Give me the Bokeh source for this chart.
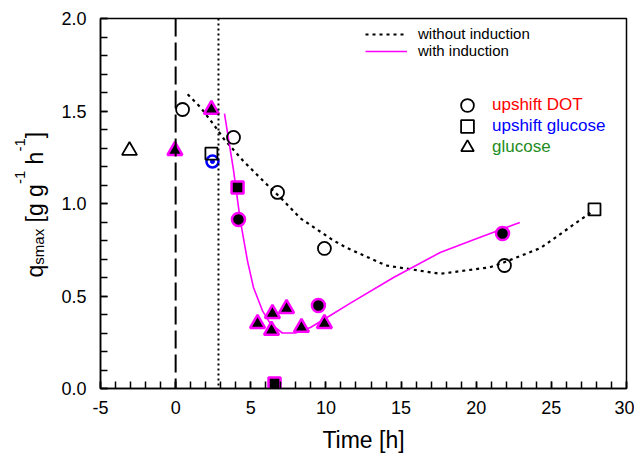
import math
from bokeh.plotting import figure
from bokeh.layouts import row
from bokeh.models import (Legend, LegendItem, Span, FixedTicker,
                          PrintfTickFormatter, Range1d)
from bokeh.core.properties import value
from bokeh.embed import file_html
from bokeh.resources import INLINE

# ---------------- data ----------------
# upshift DOT (circles)
dot_open_t = [0.46, 3.85, 6.78, 9.9, 21.88]
dot_open_q = [1.508, 1.357, 1.06, 0.757, 0.665]
dot_ind_t = [4.18, 9.5, 21.75]
dot_ind_q = [0.914, 0.449, 0.838]
dot_blue_t = [2.45]
dot_blue_q = [1.227]

# upshift glucose (squares)
glc_up_open_t = [2.38, 27.87]
glc_up_open_q = [1.27, 0.968]
glc_up_ind_t = [4.12, 6.58]
glc_up_ind_q = [1.086, 0.027]

# glucose (triangles)
glc_open_t = [-3.07]
glc_open_q = [1.286]
glc_ind_t = [-0.05, 2.38, 5.45, 6.44, 7.38, 6.38, 8.37, 9.9]
glc_ind_q = [1.286, 1.508, 0.351, 0.405, 0.432, 0.314, 0.33, 0.351]

# fitted curves
without_t = [0.8, 1.65, 2.5, 3.2, 4.5, 5.85, 7.0, 8.3, 10.5, 11.4, 14.0,
             17.6, 20.9, 21.8, 24.3, 26.9, 27.8]
without_q = [1.59, 1.52, 1.43, 1.35, 1.23, 1.12, 1.03, 0.92, 0.80, 0.76, 0.665,
             0.62, 0.655, 0.68, 0.76, 0.91, 0.96]
with_t = [3.25, 3.85, 4.0, 4.3, 4.78, 5.18, 5.78, 6.3, 7.1, 7.97, 8.97, 10.1,
          11.6, 14.5, 17.6, 20.0, 22.9]
with_q = [1.486, 1.18, 1.09, 0.91, 0.69, 0.546, 0.42, 0.351, 0.30, 0.30, 0.33,
          0.385, 0.46, 0.60, 0.735, 0.81, 0.897]

# vertical markers (time of events)
event_dashed = 0.0
event_dotted = 2.85

x_major = [-5, 0, 5, 10, 15, 20, 25, 30]
x_minor = list(range(-5, 31))
y_major = [0.0, 0.5, 1.0, 1.5, 2.0]
y_minor = [i / 10 for i in range(21)]

# y-axis label pieces: text, font size, baseline shift (sub/superscript)
NB = "\u00a0"
ylabel_parts = ["q", "smax", NB + "[g" + NB + "g", "-1", NB + "h", "-1", "]"]
ylabel_sizes = [23, 15, 23, 15, 23, 15, 23]
ylabel_shift = [0, 4, 0, -15, 0, -15, 0]
ylabel_adv = [0.556, 2.389, 1.946, 0.889, 0.834, 0.889, 0.278]

FONT = "Liberation Sans"
MAG = "#ff00ff"
LABEL_W = 50
H = 468

p = figure(width=634 - LABEL_W, height=H, x_range=Range1d(-5, 30), y_range=Range1d(0, 2),
           output_backend="svg", toolbar_location=None,
           min_border_left=100 - LABEL_W, min_border_right=8, min_border_top=18,
           min_border_bottom=80)
p.xgrid.visible = False
p.ygrid.visible = False
p.outline_line_color = "black"
p.outline_line_width = 1.5
p.background_fill_color = "white"
p.border_fill_color = "white"

for ax in (p.xaxis[0], p.yaxis[0]):
    ax.axis_line_width = 1.5
    ax.major_tick_in = 7
    ax.major_tick_out = 0
    ax.minor_tick_in = 7
    ax.minor_tick_out = 0
    ax.major_tick_line_width = 1.5
    ax.minor_tick_line_width = 1.5
    ax.major_label_text_font = FONT
    ax.major_label_text_font_size = "18px"
    ax.major_label_text_color = "black"

p.xaxis.ticker = FixedTicker(ticks=x_major, minor_ticks=x_minor)
p.yaxis.ticker = FixedTicker(ticks=y_major, minor_ticks=y_minor)
p.xaxis.formatter = PrintfTickFormatter(format="%d")
p.yaxis.formatter = PrintfTickFormatter(format="%.1f")
p.xaxis.major_label_standoff = 12
p.yaxis.major_label_standoff = 14
p.xaxis.axis_label = "Time [h]"
p.xaxis.axis_label_text_font = FONT
p.xaxis.axis_label_text_font_size = "23px"
p.xaxis.axis_label_text_font_style = "normal"
p.xaxis.axis_label_text_color = "black"
p.xaxis.axis_label_standoff = 10

# event lines
p.add_layout(Span(location=event_dashed, dimension="height", line_color="black",
                  line_width=2, line_dash="18 6"))
p.add_layout(Span(location=event_dotted, dimension="height", line_color="black",
                  line_width=2, line_dash="2 3"))

# curves
r_without = p.line(without_t, without_q, line_color="black", line_width=2.2,
                   line_dash="3 4")
r_with = p.line(with_t, with_q, line_color=MAG, line_width=1.6)

# markers
r_circ = p.scatter(dot_open_t, dot_open_q, marker="circle", size=13,
                   fill_color=None, line_color="black", line_width=1.8)
p.scatter(dot_blue_t, dot_blue_q, marker="circle", size=12,
          fill_color=None, line_color="blue", line_width=2.5)
p.scatter(dot_blue_t, dot_blue_q, marker="circle", size=4,
          fill_color="blue", line_color="blue")
r_sq = p.scatter(glc_up_open_t, glc_up_open_q, marker="square", size=12,
                 fill_color=None, line_color="black", line_width=1.8)
r_tri = p.scatter(glc_open_t, glc_open_q, marker="triangle", size=15,
                  fill_color=None, line_color="black", line_width=1.8)

p.scatter(dot_ind_t, dot_ind_q, marker="circle", size=13,
          fill_color="black", line_color=MAG, line_width=2.5)
p.scatter(glc_up_ind_t, glc_up_ind_q, marker="square", size=12,
          fill_color="black", line_color=MAG, line_width=2.5)
p.scatter(glc_ind_t, glc_ind_q, marker="triangle", size=15,
          fill_color="black", line_color=MAG, line_width=2.5)

# legends
leg_lines = Legend(items=[LegendItem(label="without induction", renderers=[r_without]),
                          LegendItem(label="with induction", renderers=[r_with])],
                   location=(265, 329), glyph_width=42, glyph_height=16,
                   label_height=16, spacing=0, padding=0, margin=0,
                   label_standoff=11, border_line_alpha=0,
                   background_fill_alpha=0, label_text_font=FONT,
                   label_text_font_size="15px", label_text_color="black")
p.add_layout(leg_lines)

marker_rows = [("upshift DOT", r_circ, "#ff0000", 267),
               ("upshift glucose", r_sq, "#0000ff", 246),
               ("glucose", r_tri, "#1e8c1e", 225)]
for lab, rend, col, ly in marker_rows:
    lg = Legend(items=[LegendItem(label=lab, renderers=[rend])],
                location=(351, ly), glyph_width=32, glyph_height=32,
                label_height=32, spacing=0, padding=0, margin=0,
                label_standoff=9, border_line_alpha=0,
                background_fill_alpha=0, label_text_font=FONT,
                label_text_font_size="17px", label_text_color=col)
    p.add_layout(lg)

# ---- narrow panel holding the rotated y-axis label (pixel coordinates) ----
pl = figure(frame_width=LABEL_W, frame_height=H,
            x_range=Range1d(0, LABEL_W), y_range=Range1d(0, H),
            x_axis_location=None, y_axis_location=None,
            output_backend="svg", toolbar_location=None, min_border=0)
pl.grid.visible = False
pl.outline_line_color = None
pl.background_fill_color = "white"
pl.border_fill_color = "white"

base_x = 34
ypos = H - 259.0
for txt, fs, dx, a in zip(ylabel_parts, ylabel_sizes, ylabel_shift, ylabel_adv):
    pl.text(x=[base_x + dx], y=[ypos], text=[txt], angle=math.pi / 2,
            text_font=value(FONT), text_font_size=f"{fs}px",
            text_baseline="alphabetic", text_align="left", text_color="black")
    ypos += a * fs

open("out.html", "w").write(file_html(row(pl, p), INLINE))
